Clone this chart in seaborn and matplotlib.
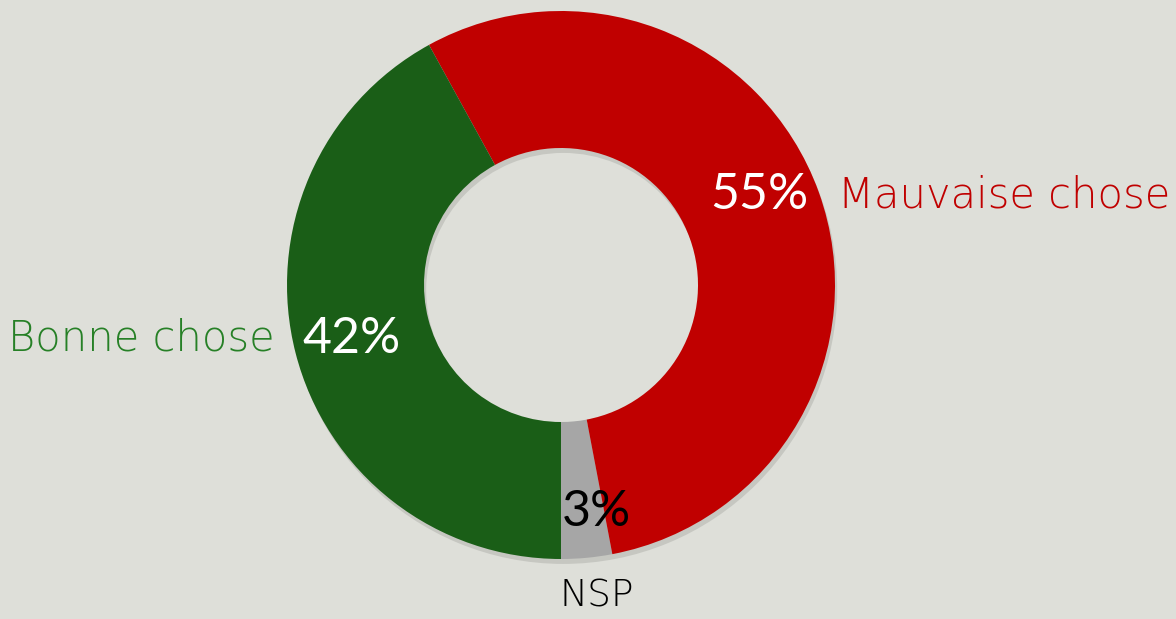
import matplotlib.pyplot as plt
import seaborn as sns

# data
labels = ['NSP', 'Mauvaise chose', 'Bonne chose']
values = [3, 55, 42]
colors = ['#A6A6A6', '#C00000', '#1A5E17']
label_colors = ['#000000', '#C00000', '#268026']
pct_colors = ['#000000', '#FFFFFF', '#FFFFFF']

sns.set_style('white')
plt.rcParams['font.family'] = ['Lato', 'DejaVu Sans']
bg = '#DEDFD9'

fig = plt.figure(figsize=(11.76, 6.19), dpi=100, facecolor=bg)
ax = fig.add_axes([0, 0, 1, 1])
ax.set_facecolor(bg)

# soft shadow ring behind the donut
ax.pie([1], colors=['#9A9B96'], radius=1, center=(0.008, -0.018),
       wedgeprops=dict(width=0.5, linewidth=0, alpha=0.35))

wedges, texts, autotexts = ax.pie(
    values, colors=sns.color_palette(colors), startangle=270, counterclock=True,
    radius=1, wedgeprops=dict(width=0.5, linewidth=0),
    autopct=lambda p: f'{p:.0f}%', pctdistance=0.79,
    textprops=dict(fontsize=36),
)
for t, c in zip(autotexts, pct_colors):
    t.set_color(c)
    t.set_va('center')
autotexts[1].set_position((0.723, 0.328))
autotexts[0].set_position((0.131, -0.83))

# outer category labels
texts[1].set_text(labels[1])
texts[1].set_position((1.01, 0.328))
texts[1].set_ha('left')
texts[2].set_text(labels[2])
texts[2].set_position((-1.045, -0.193))
texts[2].set_ha('right')
texts[0].set_text(labels[0])
texts[0].set_position((0.131, -1.135))
texts[0].set_ha('center')
for t, c in zip(texts, label_colors):
    t.set_color(c)
    t.set_va('center')
    t.set_fontsize(30)
    t.set_family(['DejaVu Sans'])
    t.set_fontweight('light')
texts[0].set_fontsize(27)

ax.set_xlim(-561 / 274, 615 / 274)
ax.set_ylim(-334 / 274, 285 / 274)
ax.set_aspect('equal')
ax.axis('off')

plt.savefig('out.png', dpi=100, facecolor=bg)
